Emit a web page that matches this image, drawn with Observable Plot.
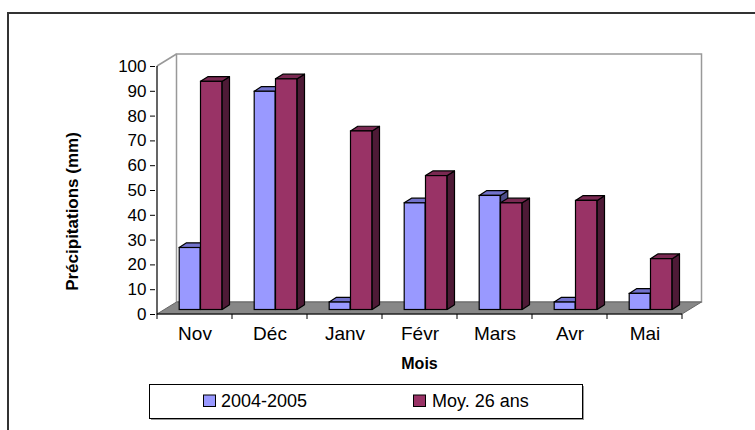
<!DOCTYPE html>
<html><head><meta charset="utf-8">
<script src="https://cdn.jsdelivr.net/npm/d3@7"></script>
<script src="https://cdn.jsdelivr.net/npm/@observablehq/plot@0.6"></script>
<style>
html,body{margin:0;padding:0;background:#fff;}
#chart{width:755px;height:430px;}
</style></head><body><div id="chart"></div>
<script>
// ---- data ----
const months = ["Nov", "Déc", "Janv", "Févr", "Mars", "Avr", "Mai"];
const seriesNames = ["2004-2005", "Moy. 26 ans"];
const values2004 = [25, 88, 3, 43, 46, 3, 6.5];
const valuesMoy = [92, 93, 72, 54, 43, 44, 20.5];
const yTicks = [0, 10, 20, 30, 40, 50, 60, 70, 80, 90, 100];
const yTitle = "Précipitations (mm)";
const xTitle = "Mois";

// ---- style ----
const FONT = "'Liberation Sans', Arial, sans-serif";
const frontColors = ["#9999FF", "#993366"];
const topColors = ["#7272CC", "#7A2952"];
const sideColors = ["#4C4C88", "#4E1A36"];
const BAR_DY = -4.5;          // bars stand slightly behind the front plane
const SX = 7.3, SY = -4.7;    // bar depth
const WX = 19.5, WY = -12;    // wall depth
const barOffsets = [[22.2, 43.5], [43.5, 65.2]]; // px inside each band

const data = months.flatMap((m, i) => [
  {month: m, series: seriesNames[0], value: values2004[i], k: 0},
  {month: m, series: seriesNames[1], value: valuesMoy[i], k: 1}
]);

function bandwidthOf(x) {
  return typeof x.bandwidth === "function" ? x.bandwidth() : (x(months[1]) - x(months[0]));
}

// floor, walls, axis lines, frame
function scene(index, scales, values, dims) {
  const x = scales.x, y = scales.y;
  const bw = bandwidthOf(x);
  const xa = x(months[0]), xb = x(months[months.length - 1]) + bw;
  const y0 = y(0), yTop = y(100);
  const g = d3.create("svg:g");
  // outer frame (only left and top visible)
  g.append("path").attr("d", `M8,${dims.height}V13H${dims.width}`)
    .attr("fill", "none").attr("stroke", "#333").attr("stroke-width", 2);
  // back wall
  g.append("rect").attr("x", xa + WX).attr("y", yTop + WY)
    .attr("width", xb - xa).attr("height", y0 - yTop)
    .attr("fill", "#fff").attr("stroke", "#999").attr("stroke-width", 1.5);
  // left wall top edge
  g.append("path").attr("d", `M${xa},${yTop}L${xa + WX},${yTop + WY}`)
    .attr("stroke", "#999").attr("stroke-width", 1.5);
  // floor
  g.append("path").attr("d", `M${xa},${y0}L${xb},${y0}L${xb + WX},${y0 + WY}L${xa + WX},${y0 + WY}Z`)
    .attr("fill", "#878787").attr("stroke", "#666").attr("stroke-width", 1);
  // axis lines
  g.append("path").attr("d", `M${xa},${yTop}V${y0}H${xb}`)
    .attr("fill", "none").attr("stroke", "#000").attr("stroke-width", 1.2);
  // x boundary ticks
  for (let i = 0; i <= months.length; i++) {
    g.append("line").attr("x1", xa + i * bw).attr("x2", xa + i * bw)
      .attr("y1", y0).attr("y2", y0 + 5).attr("stroke", "#000");
  }
  return g.node();
}

// top and side faces of the bars of series k
function faces(k) {
  return (index, scales) => {
    const x = scales.x, y = scales.y;
    const bw = bandwidthOf(x);
    const g = d3.create("svg:g").attr("stroke", "#000").attr("stroke-width", 1.2).attr("stroke-linejoin", "round");
    data.filter(d => d.k === k).forEach(d => {
      const x1 = x(d.month) + barOffsets[k][0], x2 = x(d.month) + barOffsets[k][1];
      const yt = y(d.value) + BAR_DY, yb = y(0) + BAR_DY;
      g.append("path").attr("fill", sideColors[k])
        .attr("d", `M${x2},${yb}L${x2 + SX},${yb + SY}L${x2 + SX},${yt + SY}L${x2},${yt}Z`);
      g.append("path").attr("fill", topColors[k])
        .attr("d", `M${x1},${yt}L${x1 + SX},${yt + SY}L${x2 + SX},${yt + SY}L${x2},${yt}Z`);
    });
    return g.node();
  };
}

function frontBars(k, bw) {
  return Plot.barY(data.filter(d => d.k === k), {
    x: "month", y: "value", fill: frontColors[k], stroke: "#000", strokeWidth: 1.2,
    insetLeft: barOffsets[k][0], insetRight: bw - barOffsets[k][1], dy: BAR_DY
  });
}

// legend
function legend(index, scales, values, dims) {
  const g = d3.create("svg:g");
  g.append("rect").attr("x", 151).attr("y", 386).attr("width", 433).attr("height", 34).attr("fill", "#999");
  g.append("rect").attr("x", 149.5).attr("y", 384.5).attr("width", 433).attr("height", 34)
    .attr("fill", "#fff").attr("stroke", "#000").attr("stroke-width", 1);
  const items = [[203.5, 221], [413.5, 432]];
  seriesNames.forEach((s, k) => {
    g.append("rect").attr("x", items[k][0]).attr("y", 395).attr("width", 12).attr("height", 11.5)
      .attr("fill", frontColors[k]).attr("stroke", "#000").attr("stroke-width", 1);
    g.append("text").attr("x", items[k][1]).attr("y", 401).attr("dy", "0.35em")
      .attr("text-anchor", "start")
      .attr("font-size", 18).attr("font-family", FONT).attr("fill", "#000").text(s);
  });
  return g.node();
}

const W = 755, H = 430;
const bwPx = (683 - 155) / months.length;

const chart = Plot.plot({
  width: W, height: H,
  marginLeft: 155, marginRight: 72, marginTop: 66, marginBottom: 116,
  style: {fontFamily: FONT, color: "#000", background: "#fff", overflow: "visible"},
  x: {domain: months, padding: 0, axis: null},
  y: {domain: [0, 100], nice: false, axis: null},
  marks: [
    scene,
    faces(0),
    frontBars(0, bwPx),
    faces(1),
    frontBars(1, bwPx),
    Plot.axisY({ticks: yTicks, tickSize: 5, tickPadding: 4, fontSize: 17, label: null}),
    Plot.axisX({tickSize: 0, tickPadding: 12, fontSize: 19, label: null}),
    Plot.text([xTitle], {frameAnchor: "bottom", dy: 54, fontWeight: "bold", fontSize: 16, fill: "#000"}),
    Plot.text([yTitle], {frameAnchor: "left", textAnchor: "middle", rotate: -90, dx: -83, dy: 21, fontWeight: "bold", fontSize: 17, fill: "#000"}),
    legend
  ]
});
document.getElementById("chart").appendChild(chart);
</script>
</body></html>
